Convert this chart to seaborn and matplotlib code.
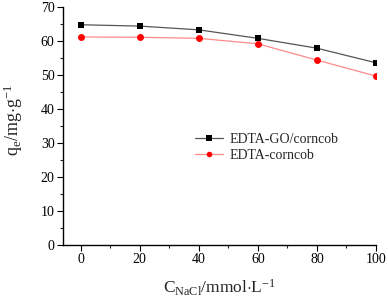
import numpy as np
import pandas as pd
import matplotlib
matplotlib.use('Agg')
import matplotlib.pyplot as plt
import seaborn as sns
from matplotlib.ticker import MultipleLocator

# dados
nacl = [0, 20, 40, 60, 80, 100]
q_go = [64.8, 64.4, 63.3, 60.8, 57.9, 53.6]
q_cob = [61.2, 61.1, 60.8, 59.2, 54.4, 49.7]
series_names = ['EDTA-GO/corncob', 'EDTA-corncob']

df = pd.DataFrame({
    'nacl': nacl * 2,
    'q': q_go + q_cob,
    'amostra': [series_names[0]] * len(nacl) + [series_names[1]] * len(nacl),
})

sns.set_style('ticks')
plt.rcParams['font.family'] = ['Liberation Serif', 'DejaVu Serif']
plt.rcParams['mathtext.fontset'] = 'custom'
plt.rcParams['mathtext.rm'] = 'Liberation Serif'
plt.rcParams['mathtext.it'] = 'Liberation Serif'

fig = plt.figure(figsize=(3.88, 3.07), dpi=100)
ax = fig.add_axes([0.162, 0.202, 0.807, 0.775])

sns.lineplot(data=df, x='nacl', y='q', hue='amostra', style='amostra',
             palette=['black', 'red'], markers=['s', 'o'], dashes=False,
             markersize=5, linewidth=0.9, markeredgewidth=0, ax=ax)

# linhas mais claras que os marcadores
cores_linha = ['#555555', '#ff8a8a']
cores_marc = ['black', 'red']
for ln, cl, cm in zip(ax.lines[:2], cores_linha, cores_marc):
    ln.set_color(cl)
    ln.set_markerfacecolor(cm)
    ln.set_markeredgecolor(cm)

ax.set_xlim(-6, 100)
ax.set_ylim(0, 70)
ax.xaxis.set_major_locator(MultipleLocator(20))
ax.xaxis.set_minor_locator(MultipleLocator(10))
ax.yaxis.set_major_locator(MultipleLocator(10))
ax.yaxis.set_minor_locator(MultipleLocator(5))
ax.tick_params(which='major', direction='out', length=4, width=0.8, labelsize=10, colors='black', pad=2)
ax.tick_params(which='minor', direction='out', length=2, width=0.8)
for s in ['left', 'bottom']:
    ax.spines[s].set_linewidth(1.0)
    ax.spines[s].set_color('black')
sns.despine(ax=ax)

ax.set_xlabel(r'C$_{\mathregular{NaCl}}$/mmol$\cdot$L$^{\mathregular{-1}}$', fontsize=12.5, labelpad=8)
ax.set_ylabel(r'q$_{\mathregular{e}}$/mg$\cdot$g$^{\mathregular{-1}}$', fontsize=13)
ax.yaxis.set_label_coords(-0.122, 0.525)

leg = ax.legend(loc='upper left', bbox_to_anchor=(0.405, 0.495), frameon=False,
                fontsize=10, handlelength=2.0, handletextpad=0.5, labelspacing=0.25,
                borderaxespad=0)
for h, cl, cm in zip(leg.legend_handles, cores_linha, cores_marc):
    h.set_color(cl)
    h.set_markerfacecolor(cm)
    h.set_markeredgecolor(cm)
    h.set_markersize(4)

plt.savefig('out.png', dpi=100)
plt.close()
